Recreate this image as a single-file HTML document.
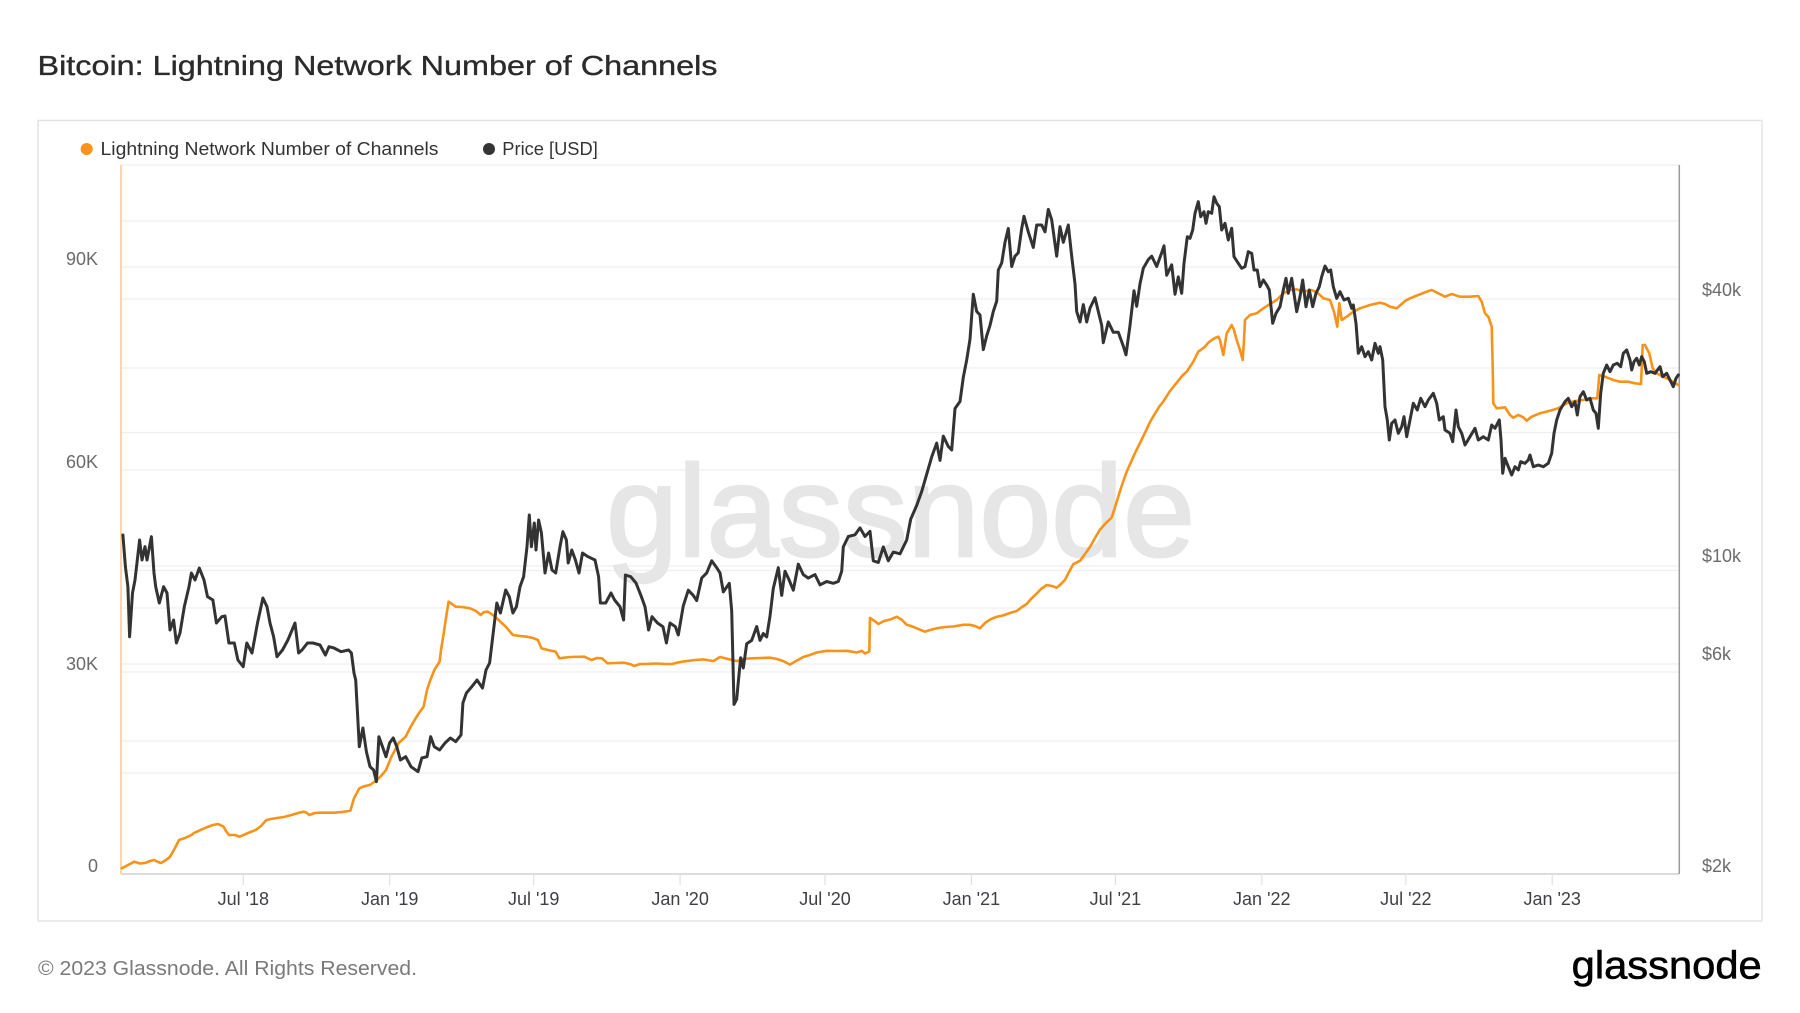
<!DOCTYPE html>
<html>
<head>
<meta charset="utf-8">
<style>
html,body{margin:0;padding:0;background:#fff;}
svg{display:block;}
text{font-family:"Liberation Sans",Arial,sans-serif;}
</style>
</head>
<body>
<svg width="1800" height="1013" viewBox="0 0 1800 1013" xmlns="http://www.w3.org/2000/svg">
<rect x="0" y="0" width="1800" height="1013" fill="#fff"/>

<!-- Title -->
<text x="37.5" y="75" font-size="28" fill="#2b2b2b" stroke="#2b2b2b" stroke-width="0.35" textLength="680" lengthAdjust="spacingAndGlyphs">Bitcoin: Lightning Network Number of Channels</text>

<!-- Chart box -->
<rect x="38" y="120.5" width="1724" height="800.5" fill="none" stroke="#e4e4e4" stroke-width="1.5"/>

<!-- Legend -->
<circle cx="86.7" cy="149" r="6" fill="#f7931a"/>
<text x="100.5" y="155" font-size="18" fill="#333" textLength="338" lengthAdjust="spacingAndGlyphs">Lightning Network Number of Channels</text>
<circle cx="489" cy="149" r="6" fill="#333"/>
<text x="502.3" y="155" font-size="18" fill="#333" textLength="95.5" lengthAdjust="spacingAndGlyphs">Price [USD]</text>

<!-- Gridlines -->
<g stroke="#efefef" stroke-width="1.3">
<line x1="121" y1="165" x2="1679" y2="165"/>
<line x1="121" y1="221" x2="1679" y2="221"/>
<line x1="121" y1="267" x2="1679" y2="267"/>
<line x1="121" y1="299" x2="1679" y2="299"/>
<line x1="121" y1="368" x2="1679" y2="368"/>
<line x1="121" y1="432.5" x2="1679" y2="432.5"/>
<line x1="121" y1="470" x2="1679" y2="470"/>
<line x1="121" y1="566" x2="1679" y2="566"/>
<line x1="121" y1="570.5" x2="1679" y2="570.5"/>
<line x1="121" y1="608" x2="1679" y2="608"/>
<line x1="121" y1="664" x2="1679" y2="664"/>
<line x1="121" y1="672" x2="1679" y2="672"/>
<line x1="121" y1="741" x2="1679" y2="741"/>
<line x1="121" y1="773" x2="1679" y2="773"/>
</g>

<!-- Watermark -->
<text x="606" y="556" font-size="130" fill="#e6e6e6" stroke="#e6e6e6" stroke-width="2.5" textLength="589" lengthAdjust="spacingAndGlyphs">glassnode</text>

<!-- Axes -->
<line x1="121" y1="874" x2="1679" y2="874" stroke="#dcdcdc" stroke-width="2"/>
<line x1="121" y1="165" x2="121" y2="874" stroke="#fcc88c" stroke-width="1.5"/>
<line x1="1679.3" y1="165" x2="1679.3" y2="874" stroke="#9a9a9a" stroke-width="1.5"/>

<!-- X ticks -->
<g stroke="#e2e2e2" stroke-width="1.3">
<line x1="243.3" y1="874" x2="243.3" y2="885"/>
<line x1="389.7" y1="874" x2="389.7" y2="885"/>
<line x1="533.7" y1="874" x2="533.7" y2="885"/>
<line x1="680.1" y1="874" x2="680.1" y2="885"/>
<line x1="825" y1="874" x2="825" y2="885"/>
<line x1="971.4" y1="874" x2="971.4" y2="885"/>
<line x1="1115.4" y1="874" x2="1115.4" y2="885"/>
<line x1="1261.8" y1="874" x2="1261.8" y2="885"/>
<line x1="1405.8" y1="874" x2="1405.8" y2="885"/>
<line x1="1552.2" y1="874" x2="1552.2" y2="885"/>
</g>

<!-- X labels -->
<g font-size="18" fill="#3f3f46" text-anchor="middle">
<text x="243.3" y="905">Jul '18</text>
<text x="389.7" y="905">Jan '19</text>
<text x="533.7" y="905">Jul '19</text>
<text x="680.1" y="905">Jan '20</text>
<text x="825" y="905">Jul '20</text>
<text x="971.4" y="905">Jan '21</text>
<text x="1115.4" y="905">Jul '21</text>
<text x="1261.8" y="905">Jan '22</text>
<text x="1405.8" y="905">Jul '22</text>
<text x="1552.2" y="905">Jan '23</text>
</g>

<!-- Left Y labels -->
<g font-size="18" fill="#6b6b6b" text-anchor="end">
<text x="98" y="265">90K</text>
<text x="98" y="468">60K</text>
<text x="98" y="670">30K</text>
<text x="98" y="872">0</text>
</g>

<!-- Right Y labels -->
<g font-size="18" fill="#6b6b6b">
<text x="1702" y="296">$40k</text>
<text x="1702" y="562">$10k</text>
<text x="1702" y="660">$6k</text>
<text x="1702" y="872">$2k</text>
</g>

<!-- Channels (orange) -->
<polyline fill="none" stroke="#f7931a" stroke-width="2.6" stroke-linejoin="round" stroke-linecap="round" points="
121.8,868.3 128,865 134.3,861.7 140,863.5 145,863 150,861 154,860 158,862 161,863 166,860 170,856.7 175,848 179,840 185,838 191.4,835 194,833 196.8,831.7 205,828 212.9,825 218,824 223.6,826.7 226,831 229,835 235,835 239.6,836.7 248,833 255.7,830 261,826 266.4,820 271,819 277,818 284,817 291.4,815 298,813 304,811.7 307,813 309.3,815 315,813 320,812.7 334.3,812.7 342,812 350.4,810.7 354,798.3 359.3,788.3 365,786 370,785 377,780 381,776 386,770 391.4,756.7 395,750 398.6,743 405.7,736.7 410,728 414.6,720 419,713 423.6,706.7 427,690 430,681 434.3,670 439.6,661.7 441,650 443.2,636.7 446,618 448.6,601.7 452,604 455.7,606.7 462,607 470,608.3 476,611 480.7,615 484,612 487.9,611.7 493,615 498.6,620 505.7,626.7 512.9,635 520,636 527,636.7 533,638 537.9,640 541.4,648.3 548,650 555.7,651.7 559.3,658.3 570,657 584.3,656.7 591.4,660 597,658 602,658.3 607.5,663.3 615,663 623.6,662.7 630,664 634.3,666 640,664 645,664 656,663.5 666,664 672,664 680,662 686.7,661.1 695,660 703.3,659.4 713.3,661.1 720,657 728,659 736.7,661.1 743,659 750,658.4 760,658 770,657.7 777,659 783.3,661.1 790,664.6 796,661 803.3,657 810,655 816.7,652.5 826.7,650.8 836,651 846.7,650.8 856.7,652.5 861.7,650.8 865,653.5 869.3,651.5 870,617.9 875,621.3 878.3,624 884,621 890,619.6 896.7,616.8 901.7,619.6 906.7,624.8 911,626 916.7,628.3 925,631.7 930,630 936.7,628.3 945,627 953.3,626.5 963.3,624.8 970,624.8 975,626 980,628.3 985,623 990,619.6 996,617 1003.3,615.4 1010,613 1016.7,611 1022,607 1026.7,604 1031,599 1036.7,593.6 1041,589 1046.7,585 1052,586 1056.7,587.7 1061,584 1065,579.8 1069,572 1073.3,564.2 1080,560.8 1085,554 1090,546.9 1095,538 1100,529.6 1106,523 1111.7,517.5 1116.7,501.9 1120,491 1123.3,481.1 1127,471 1131.7,460.4 1136,451 1140,443.1 1146.7,429.2 1150,422 1155,413.6 1159,407 1163.3,401.5 1170,391.1 1174,386 1178.3,380.8 1182,376 1186.7,371.7 1193.3,361.7 1198.3,351.7 1202,349 1205,346.7 1208,343 1211.7,340 1215,338 1218.3,336.7 1220,340 1223.3,355 1226.7,333.3 1231.7,325 1234,330 1236.7,340 1240,350 1242.7,360 1244,340 1245,320 1250,315 1256.7,313.3 1263.3,308.3 1270,304 1276.7,300 1283.3,293.3 1290,290 1296.7,289.3 1303.3,291.7 1311.7,290 1316,292 1320,295 1323.3,298.3 1330,300 1334,311.7 1337.3,326.7 1339.3,303.3 1341.7,320 1346.7,316.7 1353.3,311.7 1360,308.3 1370,305 1380,302.7 1385,304 1390,306.7 1396.7,308.3 1401.7,304 1405,301 1410,298.3 1418.3,295 1426.7,291.7 1431.7,290 1438.3,293.3 1445,296.7 1451.7,294 1460,296.7 1470,296.7 1478.3,296 1481.7,301.7 1485,313.3 1488.3,316.7 1491.7,326.7 1492.7,366.7 1493.3,403.3 1496.7,408.3 1505,407.3 1510,415 1513.3,417.7 1518.3,415 1523.3,417.3 1526.7,420.7 1531.7,416.7 1540,413.3 1550,410.7 1558.3,408.3 1566.7,403.3 1575,401 1583.3,400 1591.7,398.3 1597.3,398.3 1599.3,375 1605,376.7 1613.3,380 1620,381.7 1628.3,381.7 1635,383.3 1641,384 1642.7,345 1645,345 1649.3,353.3 1652.7,368.3 1656.7,373.3 1663.3,376.7 1670,380 1678.3,385"/>

<!-- Price (dark) -->
<polyline fill="none" stroke="#333333" stroke-width="3" stroke-linejoin="round" stroke-linecap="round" points="
122.9,535 125.4,566.7 127.9,586.7 129.6,636.7 132.5,593 135,580 139.6,540 142,560 145,546.7 147,560 151.4,536.7 154,573 155.7,586.7 159.3,603 163.6,586.7 167,593 170,630 173.6,620 176.4,643 180,633 184.3,606.7 189,586.7 191.4,573 195,580 199.3,568 204,580 207.5,596.7 212.9,600 216.4,623 221.8,616.7 225,616 228.9,643 234.3,643 237.9,660 243.2,666.7 246.8,643 252,653 257.5,623 262.9,598 267,606.7 270,623 273.6,636.7 277,656.7 282.5,650 287.9,640 295,623 298.6,653 302,650 307.5,643 312.9,643 320,645 325.4,655 329,646.7 334,648 341,651.7 348.6,650 351.4,653 354,673 355.7,680 357.5,713 359.3,746.7 362.9,728 366.4,751.7 370,766.7 373.6,770 376.4,781.7 378.9,736.7 382.5,746.7 386,756.7 389.6,743 393.2,738 396.8,746.7 400.4,760 405.7,756.7 411,766.7 418,771.7 421.8,758 427,756.7 430.7,736.7 434.3,746.7 439.6,750 445,743 450.4,738 455.7,741.7 461,735 462.9,703 466.4,693 471.8,686.7 477,680 482.5,688 486,670 489.6,663 493.2,633 496.8,603 500.4,613 505.7,590 509.3,596.7 512.9,613 516.4,606.7 520,586.7 523.6,576.7 527,546.7 529.3,515 531.4,546.7 534.3,523 536,550 538.6,520 541.4,533 545,573 548.6,553 552,570 555.7,573 560,546.7 562.9,531.7 566.4,540 568.2,563 571.8,550 575.4,560 579,573 582.5,553 588,556.7 595,560 598.6,576.7 600.4,603 605.7,603 611,593 614.6,600 620,606.7 623.6,620 625.4,575 630.7,576.7 636,583 641.4,596.7 645,606.7 648.6,630 652,616.7 657.5,623 663,626.7 666.4,643 670,623 675.4,626.7 678.3,635 683.3,605.8 688.3,590.2 693.3,595.4 696.7,600.6 701.7,578 706.7,572.9 711.7,560.8 716.7,567.7 720,572.9 723.3,591.9 729.3,583.3 731.7,611 734,704.4 736.7,699.2 738.3,681.9 740.7,657.7 743.3,668 746.7,643.8 751.7,640.4 756.7,626.5 760,640.4 763.3,633.5 766.7,636.9 770,616.1 773.3,588.4 778.3,567.7 781.7,595.4 785,571.2 788.3,578.1 793.3,590.2 798.3,564.2 803.3,574.6 808.3,578.1 815,574.6 820,584.9 826.7,581.5 833.3,583.3 838.3,581.5 841.7,571.2 843.3,546.9 848.3,536.5 855,534.8 860,527.9 865,536.5 870,531.3 873.3,560.8 878.3,562.5 883.3,546.9 888.3,560.8 893.3,552.1 900,553.8 906.7,540 910.7,519.2 916.7,505.4 921.7,491.5 926.7,474.2 931.7,456.9 936.7,443.1 940,460.4 943.3,436.1 948.3,446.5 951.7,450 955,408.5 960,401.5 963.3,377.3 966.7,360 970,339.2 973.3,294.2 976.7,311.5 980,315 983.3,349.6 986.7,335.8 990,325.4 993.3,311.5 996.7,301.1 998.3,270 1001.7,263 1005,242.3 1008.3,228.5 1011.7,266.5 1015,256.2 1018.3,252.7 1021.7,228.5 1024,216.3 1028.3,231.9 1033.3,247.5 1036.7,225 1041.7,225 1045,231.9 1048.3,209.4 1051.7,219.8 1056.7,256.2 1060,226.7 1063.3,242.3 1068.3,225 1071.7,256.2 1075,283.8 1076.7,311.5 1080,322 1083.3,304.6 1086.7,322 1090,308.1 1095,297.7 1098.3,311.5 1101.7,325.4 1103.3,342.7 1108.3,321.9 1113.3,332.3 1118.3,332.3 1123.3,346.1 1126,354.8 1130,325.4 1134,290.8 1136.7,306.3 1140,283.8 1143.3,268.3 1148.3,259.6 1151.7,256.2 1156.7,266.5 1161.7,252.7 1164,245.8 1166.7,275.2 1171.7,264.8 1175,294.2 1178.3,276.9 1181.7,293.3 1184,263.3 1187.3,236.7 1190,238.3 1192.7,230 1195,213.3 1198.3,201.7 1200.7,216.7 1204,211.7 1206,223.3 1208.3,211.7 1211.7,213.3 1214,196.7 1216.7,203.3 1219.3,206.7 1221.7,230 1225,223.3 1228.3,240 1231.7,228.3 1234,256.7 1238.3,263.3 1241.7,268.3 1245,266.7 1248.3,251.7 1251.7,253.3 1254,270 1257.3,270 1260,286.7 1263.3,280 1266.7,285 1269.3,290 1272.7,323.3 1276,313.3 1280,306.7 1283.3,290 1286,278.3 1288.3,293.3 1291.7,278.3 1296.7,311.7 1300,296.7 1302.7,280 1306,306.7 1309.3,290 1312.7,306.7 1316,293.3 1319.3,286.7 1321.7,276.7 1325,266 1328.3,271.7 1330.7,270 1333.3,286.7 1336.7,298.3 1340,291.7 1344,300 1348.3,298.3 1351.7,308.3 1353.3,305 1356,323.3 1358.3,353.3 1361.7,346.7 1365,356.7 1368.3,351.7 1371.7,360 1375,343.3 1378.3,353.3 1380,346.7 1382.7,360 1385,406.7 1387.3,420 1389.3,440 1391.7,423.3 1395,420 1398.3,433.3 1401.7,426.7 1404,416.7 1406.7,436.7 1410,420 1413.3,403.3 1417.3,410 1420.7,398.3 1425,406.7 1428.3,400 1433.3,393.3 1436.7,403.3 1439.3,420 1443.3,416.7 1445,430 1450,433.3 1452.7,441.7 1456,410 1458.3,426.7 1461.7,433.3 1465,445 1470,436.7 1475,428.3 1478.3,440 1483.3,436.7 1488.3,440 1491.7,425 1495,428.3 1499.3,420 1501,440 1502.7,473.3 1505,458.3 1508.3,466.7 1511.7,475 1515,466.7 1518.3,470 1520.7,461.7 1525,463.3 1528.3,460 1530,455 1533.3,466.7 1538.3,465 1543.3,466.7 1548.3,463.3 1551.7,453.3 1554,433.3 1556.7,420 1560,410 1565,401.7 1568.3,398.3 1571.7,406.7 1575,401.7 1577.3,415 1580,396.7 1583.3,391.7 1586.7,400 1590,398.3 1593.3,410 1596,413.3 1598.3,428.3 1600.7,393.3 1603.3,373.3 1606.7,365 1610,371.7 1613.3,365 1617.3,363.3 1620.7,366.7 1623.3,353.3 1626.7,350 1630,360 1631.7,370 1634,361.7 1636.7,358.3 1639.3,365 1641.7,356.7 1644.3,361.7 1646.7,373.3 1650.7,371.7 1655,373.3 1660,366.7 1662.7,376.7 1666.7,373.3 1670,380 1673.3,386.7 1676,378.3 1678.3,375"/>

<!-- Footer -->
<text x="38" y="975" font-size="20" fill="#7a7a7a" textLength="379" lengthAdjust="spacingAndGlyphs">© 2023 Glassnode. All Rights Reserved.</text>
<text x="1571.7" y="978.3" font-size="38.5" fill="#000" stroke="#000" stroke-width="0.6" textLength="190" lengthAdjust="spacingAndGlyphs">glassnode</text>
</svg>
</body>
</html>
